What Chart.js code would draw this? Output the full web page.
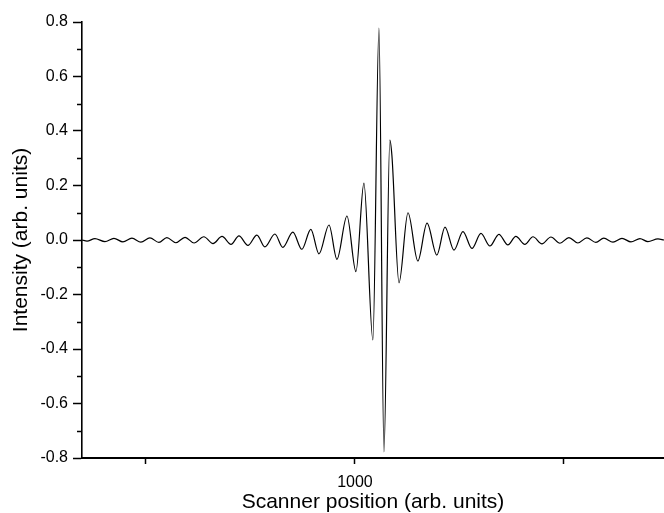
<!DOCTYPE html>
<html>
<head>
<meta charset="utf-8">
<title>Interferogram</title>
<script src="https://cdn.jsdelivr.net/npm/chart.js@4.4.1/dist/chart.umd.min.js"></script>
<style>
  html, body { margin: 0; padding: 0; background: #fff; }
  #wrap { width: 664px; height: 513px; position: relative; }
</style>
</head>
<body>
<div id="wrap"><canvas id="igram"></canvas></div>
<script>
/* Interferogram: intensity vs scanner position */

// scanner position of each turning point of the trace (arb. units)
const position = [
  869.4, 871.8, 875.6, 880.4, 884.7, 889.0, 893.3, 897.6, 901.9, 906.2,
  910.0, 914.3, 918.7, 923.0, 927.7, 932.1, 936.4, 940.7, 944.5, 948.8,
  953.1, 956.9, 961.7, 965.5, 970.3, 974.6, 978.9, 982.8, 987.6, 991.4,
  996.2, 1000.5, 1004.3, 1008.6, 1011.5, 1013.9, 1016.7, 1017.7, 1021.1, 1025.4,
  1030.1, 1034.5, 1039.2, 1043.1, 1047.4, 1051.7, 1056.0, 1060.3, 1064.6, 1068.9,
  1073.2, 1077.0, 1081.3, 1085.2, 1089.5, 1093.8, 1098.1, 1102.4, 1106.7, 1111.0,
  1115.3, 1119.1, 1123.5, 1127.8, 1132.1, 1136.4, 1140.2, 1145.0, 1147.9
];

// intensity at those points (arb. units)
const intensity = [
  0.000, -0.004, 0.005, -0.006, 0.006, -0.007, 0.007, -0.008, 0.008, -0.009,
  0.009, -0.010, 0.010, -0.011, 0.012, -0.013, 0.013, -0.016, 0.015, -0.020,
  0.018, -0.025, 0.022, -0.027, 0.029, -0.034, 0.039, -0.051, 0.055, -0.071,
  0.088, -0.116, 0.209, -0.367, 0.778, -0.778, 0.367, 0.310, -0.157, 0.100,
  -0.077, 0.062, -0.055, 0.047, -0.037, 0.031, -0.031, 0.024, -0.022, 0.021,
  -0.018, 0.013, -0.016, 0.012, -0.014, 0.011, -0.012, 0.009, -0.011, 0.008,
  -0.009, 0.007, -0.008, 0.006, -0.007, 0.005, -0.006, 0.004, 0.000
];

// axis ranges and ticks
const xRange = [869.4, 1147.9];
const xTicks = [900, 1000, 1100];
const xLabelled = [1000];
const yRange = [-0.8, 0.8];
const yMajor = [-0.8, -0.6, -0.4, -0.2, 0.0, 0.2, 0.4, 0.6, 0.8];
const yMinor = [-0.7, -0.5, -0.3, -0.1, 0.1, 0.3, 0.5, 0.7];

(function () {
  const FONT = "'Liberation Sans', Arial, sans-serif";

  function $(id) { return document.getElementById(id); }

  // short minor ticks on the y axis
  const minorTicks = {
    id: 'minorTicks',
    afterDraw(chart) {
      const y = chart.scales.y;
      const ctx = chart.ctx;
      ctx.save();
      ctx.strokeStyle = '#000';
      ctx.lineWidth = 1.5;
      yMinor.forEach(v => {
        const py = Math.round(y.getPixelForValue(v)) + 0.5;
        ctx.beginPath();
        ctx.moveTo(y.right - 5, py);
        ctx.lineTo(y.right, py);
        ctx.stroke();
      });
      ctx.restore();
    }
  };

  function init() {
    Chart.defaults.color = '#000';
    Chart.defaults.font.family = FONT;

    const ctx = $('igram').getContext('2d');
    new Chart(ctx, {
      type: 'line',
      data: {
        datasets: [{
          label: 'Intensity',
          data: position.map((x, i) => ({ x: x, y: intensity[i] })),
          borderColor: '#000',
          borderWidth: 1.2,
          pointRadius: 0,
          fill: false,
          cubicInterpolationMode: 'monotone'
        }]
      },
      options: {
        responsive: true,
        maintainAspectRatio: false,
        animation: false,
        layout: { padding: { top: 22, right: 0, bottom: 0, left: 0 } },
        plugins: {
          legend: { display: false },
          tooltip: { enabled: false }
        },
        scales: {
          x: {
            type: 'linear',
            min: xRange[0],
            max: xRange[1],
            afterBuildTicks: s => { s.ticks = xTicks.map(v => ({ value: v })); },
            afterFit: s => { s.height = 55; },
            border: { display: true, color: '#000', width: 2 },
            grid: {
              drawOnChartArea: false,
              drawTicks: true,
              tickLength: 6,
              tickColor: '#000',
              tickWidth: 1.5
            },
            ticks: {
              padding: 9,
              maxRotation: 0,
              autoSkip: false,
              font: { size: 16 },
              callback: v => (xLabelled.indexOf(v) >= 0 ? String(v) : '')
            },
            title: {
              display: true,
              text: 'Scanner position (arb. units)',
              font: { size: 21, lineHeight: 1 },
              padding: { top: 0, bottom: 0 }
            }
          },
          y: {
            min: yRange[0],
            max: yRange[1],
            afterBuildTicks: s => { s.ticks = yMajor.map(v => ({ value: v })); },
            afterFit: s => { s.width = 82; },
            border: { display: true, color: '#000', width: 1.6 },
            grid: {
              drawOnChartArea: false,
              drawTicks: true,
              tickLength: 9,
              tickColor: '#000',
              tickWidth: 1.5
            },
            ticks: {
              padding: 5,
              autoSkip: false,
              font: { size: 16 },
              callback: v => v.toFixed(1)
            },
            title: {
              display: true,
              text: 'Intensity (arb. units)',
              font: { size: 21, lineHeight: 1 },
              padding: { top: 11, bottom: 0 }
            }
          }
        }
      },
      plugins: [minorTicks]
    });
  }

  document.addEventListener('DOMContentLoaded', init);
})();
</script>
</body>
</html>
